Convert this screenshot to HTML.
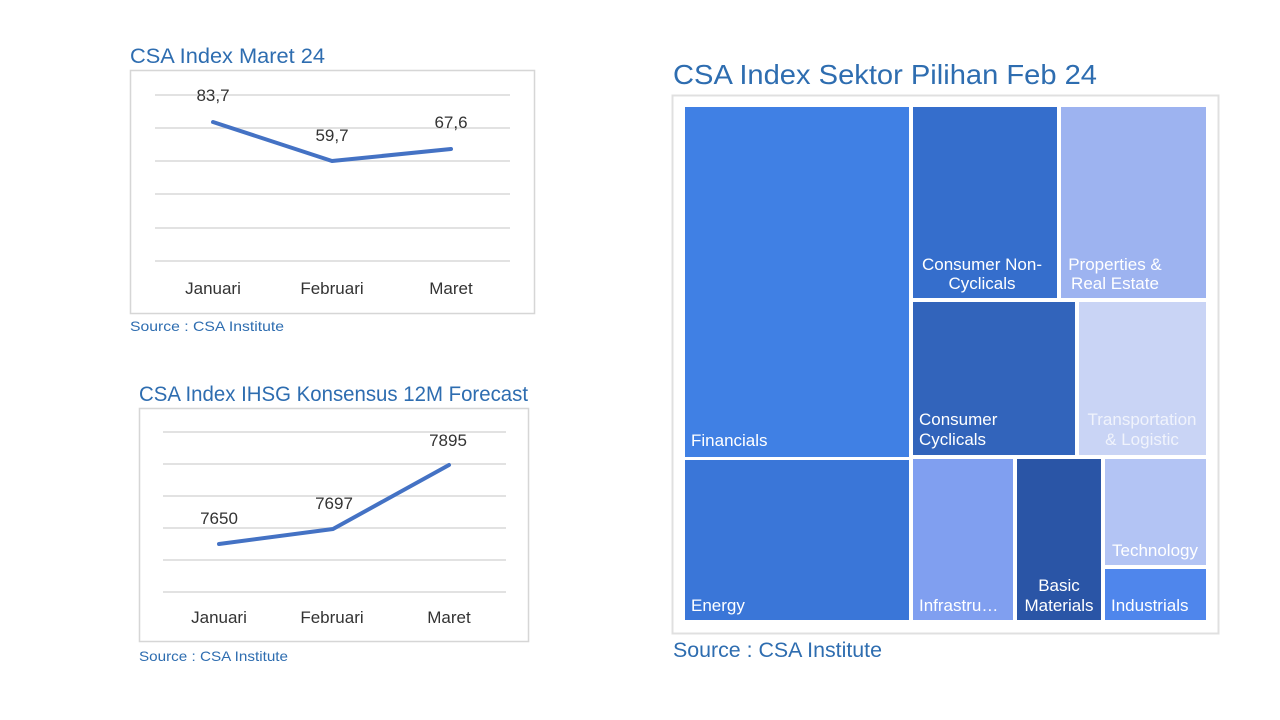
<!DOCTYPE html>
<html><head><meta charset="utf-8"><style>
html,body{margin:0;padding:0;background:#fff;width:1280px;height:720px;overflow:hidden}
svg{display:block}
</style></head><body>
<svg width="1280" height="720" xmlns="http://www.w3.org/2000/svg" font-family="Liberation Sans, sans-serif">
<rect width="1280" height="720" fill="#fff"/>
<!-- Chart 1 -->
<text x="130" y="63" font-size="21" fill="#2e6db0" textLength="195" lengthAdjust="spacingAndGlyphs">CSA Index Maret 24</text>
<rect x="130.5" y="70.5" width="404" height="243" fill="none" stroke="#d6d6d6" stroke-width="1.5"/>
<g stroke="#d9d9d9" stroke-width="1.5">
<line x1="155" y1="95" x2="510" y2="95"/><line x1="155" y1="128" x2="510" y2="128"/><line x1="155" y1="161" x2="510" y2="161"/>
<line x1="155" y1="194" x2="510" y2="194"/><line x1="155" y1="228" x2="510" y2="228"/><line x1="155" y1="261" x2="510" y2="261"/>
</g>
<polyline points="213,122 332,161 451,149" fill="none" stroke="#4472c4" stroke-width="4" stroke-linecap="round" stroke-linejoin="round"/>
<g font-size="17" fill="#333" text-anchor="middle">
<text x="213" y="101">83,7</text><text x="332" y="141">59,7</text><text x="451" y="128">67,6</text>
<text x="213" y="294">Januari</text><text x="332" y="294">Februari</text><text x="451" y="294">Maret</text>
</g>
<text x="130" y="331" font-size="14" fill="#2e6db0" textLength="154" lengthAdjust="spacingAndGlyphs">Source : CSA Institute</text>
<!-- Chart 2 -->
<text x="139" y="401" font-size="21" fill="#2e6db0" textLength="389" lengthAdjust="spacingAndGlyphs">CSA Index IHSG Konsensus 12M Forecast</text>
<rect x="139.5" y="408.5" width="389" height="233" fill="none" stroke="#d6d6d6" stroke-width="1.5"/>
<g stroke="#d9d9d9" stroke-width="1.5">
<line x1="163" y1="432" x2="506" y2="432"/><line x1="163" y1="464" x2="506" y2="464"/><line x1="163" y1="496" x2="506" y2="496"/>
<line x1="163" y1="528" x2="506" y2="528"/><line x1="163" y1="560" x2="506" y2="560"/><line x1="163" y1="592" x2="506" y2="592"/>
</g>
<polyline points="219,544 333,529 449,465" fill="none" stroke="#4472c4" stroke-width="4" stroke-linecap="round" stroke-linejoin="round"/>
<g font-size="17" fill="#333" text-anchor="middle">
<text x="219" y="524">7650</text><text x="334" y="509">7697</text><text x="448" y="446">7895</text>
<text x="219" y="623">Januari</text><text x="332" y="623">Februari</text><text x="449" y="623">Maret</text>
</g>
<text x="139" y="661" font-size="14" fill="#2e6db0" textLength="149" lengthAdjust="spacingAndGlyphs">Source : CSA Institute</text>
<!-- Treemap -->
<text x="673" y="84" font-size="28" fill="#2e6db0" textLength="424" lengthAdjust="spacingAndGlyphs">CSA Index Sektor Pilihan Feb 24</text>
<rect x="672.5" y="95.5" width="546" height="538" fill="none" stroke="#e0e0e0" stroke-width="2"/>
<rect x="685" y="107" width="224" height="350" fill="#4080e4"/>
<rect x="685" y="460" width="224" height="160" fill="#3a76d8"/>
<rect x="913" y="107" width="144" height="191" fill="#356ecc"/>
<rect x="1061" y="107" width="145" height="191" fill="#9db3f0"/>
<rect x="913" y="302" width="162" height="153" fill="#3264bb"/>
<rect x="1079" y="302" width="127" height="153" fill="#c9d4f5"/>
<rect x="913" y="459" width="100" height="161" fill="#809ff0"/>
<rect x="1017" y="459" width="84" height="161" fill="#2a55a6"/>
<rect x="1105" y="459" width="101" height="106" fill="#b3c4f4"/>
<rect x="1105" y="569" width="101" height="51" fill="#4f86ec"/>
<g font-size="17" fill="#fff">
<text x="691" y="446">Financials</text>
<text x="691" y="611">Energy</text>
<text x="982" y="270" text-anchor="middle">Consumer Non-</text>
<text x="982" y="289" text-anchor="middle">Cyclicals</text>
<text x="1115" y="270" text-anchor="middle">Properties &amp;</text>
<text x="1115" y="289" text-anchor="middle">Real Estate</text>
<text x="919" y="425">Consumer</text>
<text x="919" y="445">Cyclicals</text>
<text x="1142" y="425" text-anchor="middle" fill="#f0f3fc">Transportation</text>
<text x="1142" y="445" text-anchor="middle" fill="#f0f3fc">&amp; Logistic</text>
<text x="919" y="611">Infrastru…</text>
<text x="1059" y="591" text-anchor="middle">Basic</text>
<text x="1059" y="611" text-anchor="middle">Materials</text>
<text x="1155" y="556" text-anchor="middle">Technology</text>
<text x="1111" y="611">Industrials</text>
</g>
<text x="673" y="657" font-size="21" fill="#2e6db0" textLength="209" lengthAdjust="spacingAndGlyphs">Source : CSA Institute</text>
</svg>
</body></html>
